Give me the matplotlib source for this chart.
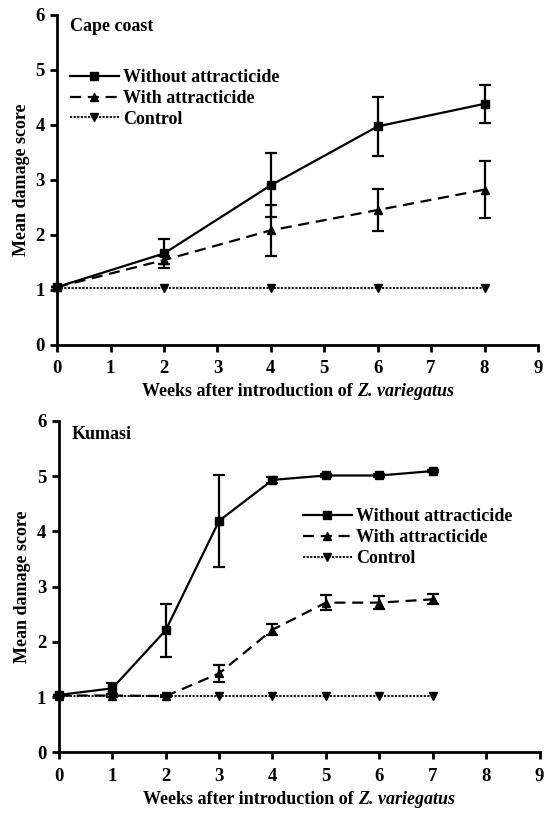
import matplotlib.pyplot as plt
import numpy as np
from matplotlib.lines import Line2D
from matplotlib.offsetbox import TextArea, HPacker, AnchoredOffsetbox

# Cape coast
cc_weeks = [0, 2, 4, 6, 8]
cc_without = [1.05, 1.66, 2.90, 3.97, 4.38]
cc_without_err = [0.0, 0.27, 0.58, 0.53, 0.34]
cc_with = [1.05, 1.54, 2.08, 2.45, 2.82]
cc_with_err = [0.0, 0.08, 0.46, 0.39, 0.52]
cc_control = [1.04, 1.04, 1.04, 1.04, 1.04]

# Kumasi
ku_weeks = [0, 1, 2, 3, 4, 5, 6, 7]
ku_without = [1.04, 1.16, 2.21, 4.19, 4.93, 5.01, 5.01, 5.09]
ku_without_err = [0.0, 0.10, 0.48, 0.83, 0.05, 0.03, 0.03, 0.02]
ku_with = [1.03, 1.03, 1.02, 1.43, 2.22, 2.71, 2.71, 2.77]
ku_with_err = [0.0, 0.02, 0.02, 0.15, 0.10, 0.13, 0.12, 0.09]
ku_control = [1.03, 1.03, 1.03, 1.03, 1.03, 1.03, 1.03, 1.03]

plt.rcParams['font.family'] = ['Liberation Serif', 'DejaVu Serif']

fig = plt.figure(figsize=(5.45, 8.17), dpi=100)
ax1 = fig.add_axes([0.105, 0.578, 0.882, 0.404])
ax2 = fig.add_axes([0.108, 0.079, 0.882, 0.406])

solid = '-'
dashed = (0, (5, 3))
dotted = (0, (1.2, 0.8))


def draw(ax, weeks, without, without_err, with_, with_err, control, title, title_xy, leg_xy):
    ax.errorbar(weeks, without, yerr=without_err, color='black', lw=1.6, ls=solid,
                marker='s', ms=6, capsize=4, elinewidth=1.6, capthick=1.6,
                clip_on=False, zorder=3)
    ax.errorbar(weeks, with_, yerr=with_err, color='black', lw=1.6, ls=dashed,
                marker='^', ms=6, capsize=4, elinewidth=1.6, capthick=1.6,
                clip_on=False, zorder=3)
    ax.plot(weeks, control, color='black', lw=1.3, ls=dotted,
            marker='v', ms=6, clip_on=False, zorder=3)
    ax.set_xlim(0, 9)
    ax.set_ylim(0, 6)
    ax.set_xticks(np.arange(0, 10))
    ax.set_yticks(np.arange(0, 7))
    for s in ['top', 'right']:
        ax.spines[s].set_visible(False)
    for s in ['left', 'bottom']:
        ax.spines[s].set_linewidth(2)
    ax.tick_params(width=2, length=5, labelsize=13.5, direction='out')
    ax.tick_params(axis='x', pad=6)
    ax.tick_params(axis='y', pad=4)
    for lab in ax.get_xticklabels() + ax.get_yticklabels():
        lab.set_fontweight('bold')
    ax.set_ylabel('Mean damage score', fontsize=13, fontweight='bold')

    # x label with italic species name
    part1 = TextArea('Weeks after introduction of ',
                     textprops=dict(fontsize=13, fontweight='bold'))
    part2 = TextArea('Z. variegatus',
                     textprops=dict(fontsize=13, fontweight='bold', fontstyle='italic'))
    box = HPacker(children=[part1, part2], align='baseline', pad=0, sep=0)
    anch = AnchoredOffsetbox(loc='center', child=box, frameon=False, pad=0,
                             bbox_to_anchor=(0.5, -0.142),
                             bbox_transform=ax.transAxes, borderpad=0)
    ax.add_artist(anch)

    ax.text(title_xy[0], title_xy[1], title, fontsize=13,
            fontweight='bold', va='center', ha='left')

    handles = [
        Line2D([], [], color='black', lw=1.6, ls=solid, marker='s', ms=6),
        Line2D([], [], color='black', lw=1.6, ls=dashed, marker='^', ms=6),
        Line2D([], [], color='black', lw=1.3, ls=dotted, marker='v', ms=6),
    ]
    labels = ['Without attracticide', 'With attracticide', 'Control']
    leg = ax.legend(handles, labels, loc='center left', bbox_to_anchor=leg_xy,
                    bbox_transform=ax.transData,
                    frameon=False, fontsize=13, handlelength=2.7,
                    handletextpad=0.25, labelspacing=0.22, borderaxespad=0,
                    borderpad=0)
    for t in leg.get_texts():
        t.set_fontweight('bold')


draw(ax1, cc_weeks, cc_without, cc_without_err, cc_with, cc_with_err, cc_control,
     'Cape coast', (0.24, 5.79), (0.24, 4.48))
draw(ax2, ku_weeks, ku_without, ku_without_err, ku_with, ku_with_err, ku_control,
     'Kumasi', (0.24, 5.76), (4.57, 3.89))

fig.savefig('out.png', dpi=100)
